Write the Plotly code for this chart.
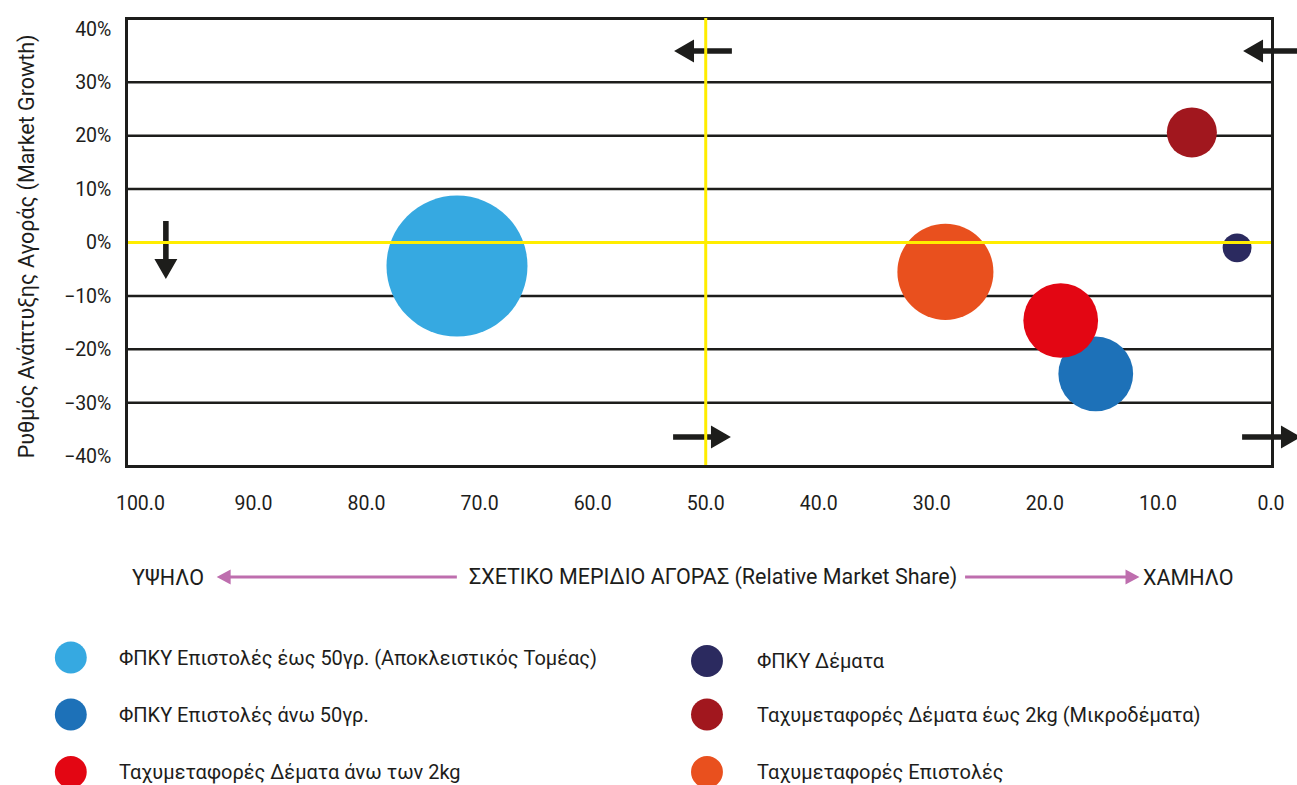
import plotly.graph_objects as go

# ---- data -------------------------------------------------------------
series_names = [
    "ΦΠΚΥ Επιστολές έως 50γρ. (Αποκλειστικός Τομέας)",
    "ΦΠΚΥ Επιστολές άνω 50γρ.",
    "Ταχυμεταφορές Δέματα άνω των 2kg",
    "ΦΠΚΥ Δέματα",
    "Ταχυμεταφορές Δέματα έως 2kg (Μικροδέματα)",
    "Ταχυμεταφορές Επιστολές",
]
relative_share = [72.0, 15.5, 18.6, 3.0, 7.0, 28.8]
market_growth = [-0.044, -0.246, -0.146, -0.010, 0.206, -0.055]
bubble_size = [100.0, 28.1, 28.1, 4.2, 12.6, 46.4]
series_colors = ["#36a9e1", "#1d71b8", "#e30613", "#2b2a5f", "#a1171e", "#e9501e"]

x_ticks = [100, 90, 80, 70, 60, 50, 40, 30, 20, 10, 0]
y_ticks = [-0.4, -0.3, -0.2, -0.1, 0.0, 0.1, 0.2, 0.3, 0.4]

y_title = "Ρυθμός Ανάπτυξης Αγοράς (Market Growth)"
x_title = "ΣΧΕΤΙΚΟ ΜΕΡΙΔΙΟ ΑΓΟΡΑΣ (Relative Market Share)"
x_high, x_low = "ΥΨΗΛΟ", "ΧΑΜΗΛΟ"

# ---- layout geometry (pixels) -----------------------------------------
W, H = 1297, 785
L, R, T, B = 128, 1275, 20, 465
FONT = "Roboto"
INK = "#1d1d1b"
YELLOW = "#ffed00"
PINK = "#be6eae"
TICK_SIZE = 19.5
CAPTION_SIZE = 21.5
LEGEND_SIZE = 20


def px(x):
    return (x - L) / (R - L)


def py(y):
    return (B - y) / (B - T)


def arrow_path(x0, y0, x1, y1, head_len, head_half, shaft_half):
    """Filled arrow polygon from (x0,y0) tail to (x1,y1) tip, in pixels."""
    dx, dy = x1 - x0, y1 - y0
    n = (dx * dx + dy * dy) ** 0.5
    ux, uy = dx / n, dy / n
    vx, vy = -uy, ux
    bx, by = x1 - ux * head_len, y1 - uy * head_len
    pts = [
        (x0 + vx * shaft_half, y0 + vy * shaft_half),
        (bx + vx * shaft_half, by + vy * shaft_half),
        (bx + vx * head_half, by + vy * head_half),
        (x1, y1),
        (bx - vx * head_half, by - vy * head_half),
        (bx - vx * shaft_half, by - vy * shaft_half),
        (x0 - vx * shaft_half, y0 - vy * shaft_half),
    ]
    return "M " + " L ".join(f"{px(a):.5f},{py(b):.5f}" for a, b in pts) + " Z"


fig = go.Figure()

max_d = 141
for name, xv, yv, s, c in zip(series_names, relative_share, market_growth,
                              bubble_size, series_colors):
    fig.add_trace(go.Scatter(
        x=[xv], y=[yv], mode="markers", name=name,
        marker=dict(size=[s], sizemode="area",
                    sizeref=2.0 * max(bubble_size) / (max_d ** 2),
                    color=c, opacity=1, line=dict(width=0)),
        showlegend=False, hoverinfo="name",
    ))

shapes = []
# horizontal grid lines (black), below the bubbles
for yv in y_ticks:
    if abs(yv) < 1e-9 or abs(abs(yv) - 0.4) < 1e-9:
        continue
    shapes.append(dict(type="line", xref="paper", yref="y", x0=0, x1=1,
                       y0=yv, y1=yv, layer="below",
                       line=dict(color=INK, width=2.5)))

# black direction arrows
black_arrows = [
    (734, 51, 676, 51),     # top centre, pointing left
    (1310, 51, 1247, 51),   # top right, pointing left
    (675, 437, 733, 437),   # bottom centre, pointing right
    (1246, 437, 1305, 437), # bottom right, pointing right
    (166, 221, 166, 279),   # left, pointing down
]
for x0, y0, x1, y1 in black_arrows:
    shapes.append(dict(type="path", xref="paper", yref="paper",
                       path=arrow_path(x0, y0, x1, y1, 20, 11.5, 2.8),
                       fillcolor=INK, line=dict(width=0), layer="above"))

# yellow quadrant dividers, on top
shapes.append(dict(type="line", xref="paper", yref="y", x0=0, x1=1, y0=0, y1=0,
                   layer="above", line=dict(color=YELLOW, width=3)))
shapes.append(dict(type="line", xref="x", yref="paper", x0=50, x1=50,
                   y0=0, y1=py(18), layer="above",
                   line=dict(color=YELLOW, width=3)))

# pink arrows of the x-axis caption
for x0, x1 in [(458, 217), (968, 1143)]:
    shapes.append(dict(type="path", xref="paper", yref="paper",
                       path=arrow_path(x0, 577, x1, 577, 14, 7.5, 1.6),
                       fillcolor=PINK, line=dict(width=0), layer="above"))

annotations = []
annotations.append(dict(text=y_title, xref="paper", yref="paper",
                        x=px(27), y=py(246), textangle=-90, showarrow=False,
                        xanchor="center", yanchor="middle",
                        font=dict(family=FONT, size=CAPTION_SIZE, color=INK)))
annotations.append(dict(text=x_high, xref="paper", yref="paper",
                        x=px(130), y=py(577), showarrow=False,
                        xanchor="left", yanchor="middle",
                        font=dict(family=FONT, size=CAPTION_SIZE, color=INK)))
annotations.append(dict(text=x_title, xref="paper", yref="paper",
                        x=px(715), y=py(577), showarrow=False,
                        xanchor="center", yanchor="middle",
                        font=dict(family=FONT, size=CAPTION_SIZE, color=INK)))
annotations.append(dict(text=x_low, xref="paper", yref="paper",
                        x=px(1145), y=py(577), showarrow=False,
                        xanchor="left", yanchor="middle",
                        font=dict(family=FONT, size=CAPTION_SIZE, color=INK)))

# legend: two columns of three entries
legend_cols = [(70.6, 117), (709, 757)]
legend_rows = [[657.5, 714.5, 772], [661, 714.5, 772]]
for i, (name, c) in enumerate(zip(series_names, series_colors)):
    col, row = divmod(i, 3)
    cx, tx = legend_cols[col]
    cy = legend_rows[col][row]
    shapes.append(dict(type="circle", xref="paper", yref="paper",
                       x0=px(cx - 16), x1=px(cx + 16),
                       y0=py(cy + 16), y1=py(cy - 16),
                       fillcolor=c, line=dict(width=0), layer="above"))
    annotations.append(dict(text=name, xref="paper", yref="paper",
                            x=px(tx), y=py(cy), showarrow=False,
                            xanchor="left", yanchor="middle",
                            font=dict(family=FONT, size=LEGEND_SIZE, color=INK)))

fig.update_layout(
    width=W, height=H,
    margin=dict(l=L, r=W - R, t=T, b=H - B, pad=0),
    paper_bgcolor="white", plot_bgcolor="white",
    font=dict(family=FONT, size=TICK_SIZE, color=INK),
    shapes=shapes, annotations=annotations,
    xaxis=dict(range=[101.1, 0], tickvals=x_ticks,
               ticktext=[f"{v:.1f}" for v in x_ticks],
               showgrid=False, zeroline=False, showline=True, mirror=True,
               linecolor=INK, linewidth=2.5, ticks="",
               ticklabelstandoff=19, tickfont=dict(size=TICK_SIZE)),
    yaxis=dict(range=[-0.4165, 0.4165], tickvals=y_ticks, tickformat=".0%",
               showgrid=False, zeroline=False, showline=True, mirror=True,
               linecolor=INK, linewidth=2.5, ticks="",
               ticklabelstandoff=10, tickfont=dict(size=TICK_SIZE)),
    showlegend=False,
)

fig.write_html("out.html")
